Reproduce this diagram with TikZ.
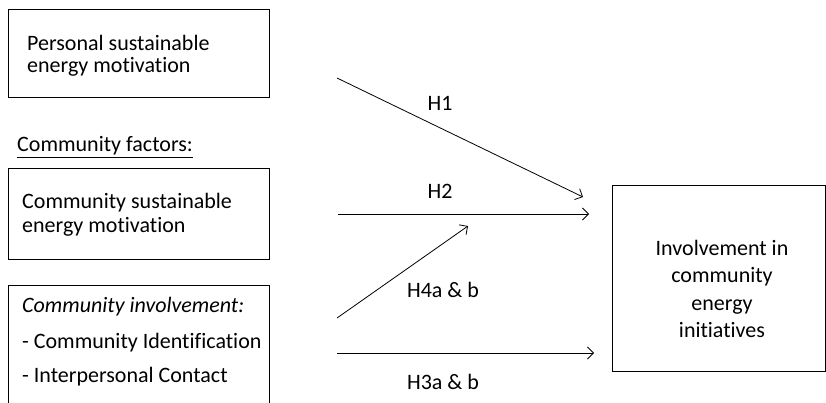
\documentclass[tikz,border=0pt]{standalone}
\usepackage{fontspec}
\setmainfont[Ligatures=NoCommon]{Carlito}
\usetikzlibrary{arrows.meta}
\begin{document}
\begin{tikzpicture}[x=1pt,y=-1pt,
  box/.style={draw,line width=0.8pt},
  lbl/.style={font=\fontsize{22}{26}\selectfont,inner sep=0pt},
  arr/.style={-{Straight Barb[length=6pt,width=12pt]},line width=0.8pt}]
\useasboundingbox (0,0) rectangle (826,402);
\clip (0,0) rectangle (826,402);
\draw[box] (8,9) rectangle (269,97);
\node[lbl,anchor=west] (t1a) at (27,43) {Personal sustainable};
\node[lbl,anchor=west] (t1b) at (27,67) {energy motivation};
\node[lbl,anchor=west] (cf) at (17,147) {\underline{Community factors:}};
\draw[box] (8,168) rectangle (269,259);
\node[lbl,anchor=west] (t2a) at (22,203) {Community sustainable};
\node[lbl,anchor=west] (t2b) at (22,227) {energy motivation};
\draw[box] (8,285) rectangle (269,420);
\node[lbl,anchor=west] (t3a) at (22,307) {\itshape Community involvement:};
\node[lbl,anchor=west] (t3b) at (22,343) {- Community Identification};
\node[lbl,anchor=west] (t3c) at (22,377) {- Interpersonal Contact};
\draw[box] (612,185) rectangle (825,371);
\node[lbl,align=center,font=\fontsize{22}{27.5}\selectfont] (out) at (722,289) {Involvement in\\community\\energy\\initiatives};
\coordinate (h1s) at (337,78); \coordinate (h1e) at (583,197);
\coordinate (h2s) at (338,214); \coordinate (h2e) at (589,214);
\coordinate (h4s) at (337,318); \coordinate (h4e) at (468,226);
\coordinate (h3s) at (337,353); \coordinate (h3e) at (594,353);
\draw[arr] (h1s) -- (h1e);
\draw[arr] (h2s) -- (h2e);
\draw[arr] (h4s) -- (h4e);
\draw[arr] (h3s) -- (h3e);
\node[lbl] (l1) at (440,103) {H1};
\node[lbl] (l2) at (440,191) {H2};
\node[lbl] (l4) at (443,290) {H4a \& b};
\node[lbl] (l3) at (443,382) {H3a \& b};
\end{tikzpicture}
\end{document}
